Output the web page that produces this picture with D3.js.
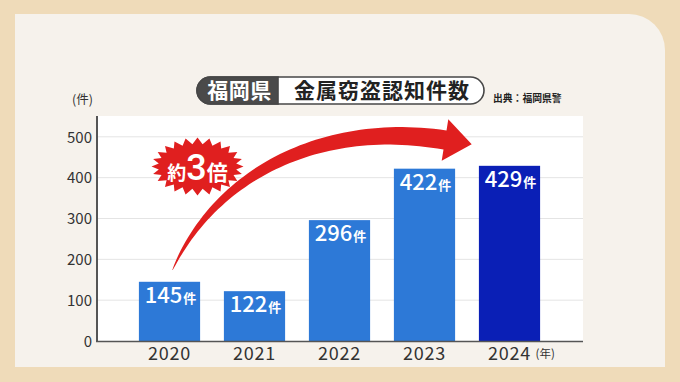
<!DOCTYPE html>
<html><head><meta charset="utf-8">
<script src="https://cdn.jsdelivr.net/npm/d3@7"></script>
<style>html,body{margin:0;padding:0;background:#efdbb9;}svg{display:block;}</style>
</head><body>
<svg id="c" width="680" height="382"></svg>
<script>
const years = ["2020","2021","2022","2023","2024"];
const counts = [145,122,296,422,429];
const yTicks = [0,100,200,300,400,500];
const unit = "件";
const titlePref = "福岡県";
const titleMain = "金属窃盗認知件数";
const source = "出典：福岡県警";
const badge = ["約","3","倍"];

const svg = d3.select("#c");
const F = "'Noto Sans CJK JP','Noto Sans',sans-serif";
const W=680,H=382;

// backgrounds
svg.append("rect").attr("width",W).attr("height",H).attr("fill","#efdbb9");
const px0=15,py0=14,px1=665,py1=367,r=36;
svg.append("path").attr("d",`M${px0},${py0}H${px1-r}A${r},${r} 0 0 1 ${px1},${py0+r}V${py1}H${px0}Z`).attr("fill","#f6f2ec");

const plot={l:98,r:583,t:116,b:341};
svg.append("rect").attr("x",plot.l).attr("y",plot.t).attr("width",plot.r-plot.l).attr("height",plot.b-plot.t).attr("fill","#ffffff");

const y=d3.scaleLinear().domain([0,551]).range([plot.b,plot.t]);
const x=d3.scaleBand().domain(years).range([127,552]).paddingInner(0.28).paddingOuter(0.14);

// grid
svg.append("g").selectAll("line").data(yTicks.filter(d=>d>0)).join("line")
 .attr("x1",plot.l).attr("x2",plot.r).attr("y1",d=>y(d)).attr("y2",d=>y(d))
 .attr("stroke","#e4e4e4").attr("stroke-width",1);

// bars
svg.append("g").selectAll("rect").data(counts).join("rect")
 .attr("x",(d,i)=>x(years[i])).attr("width",x.bandwidth())
 .attr("y",d=>y(d)).attr("height",d=>y(0)-y(d))
 .attr("fill",(d,i)=>i===counts.length-1?"#0a1fb6":"#2d79d7");

// value labels
const vl=svg.append("g").selectAll("text").data(counts).join("text")
 .attr("x",(d,i)=>x(years[i])+x.bandwidth()/2+1).attr("y",d=>y(d)+21)
 .attr("text-anchor","middle").attr("fill","#fff").attr("font-family",F);
vl.append("tspan").attr("font-size",22).attr("font-weight",500).text(d=>d);
vl.append("tspan").attr("font-size",13).attr("font-weight",700).attr("dx",1).text(unit);

// axes
const ya=d3.axisLeft(y).tickValues(yTicks).tickSize(0).tickPadding(5);
const gy=svg.append("g").attr("transform",`translate(${plot.l-1},0)`).call(ya);
gy.select(".domain").remove();
gy.selectAll("text").attr("font-family",F).attr("font-size",15).attr("fill","#333").attr("dy","0.35em");
svg.append("line").attr("x1",plot.l-1).attr("x2",plot.l-1).attr("y1",plot.t).attr("y2",plot.b+1).attr("stroke","#555").attr("stroke-width",2);
svg.append("line").attr("x1",plot.l-2).attr("x2",plot.r).attr("y1",plot.b+0.5).attr("y2",plot.b+0.5).attr("stroke","#555").attr("stroke-width",1.5);

const xa=d3.axisBottom(x).tickSize(0).tickPadding(4);
const gx=svg.append("g").attr("transform",`translate(0,${plot.b})`).call(xa);
gx.select(".domain").remove();
gx.selectAll("text").attr("font-family",F).attr("font-size",18).attr("letter-spacing",0.8).attr("fill","#333").attr("dy","0.82em");
svg.append("text").attr("x",x("2024")+x.bandwidth()/2+26).attr("y",358).attr("font-family",F).attr("font-size",11.5).attr("fill","#333").text("(年)");
svg.append("text").attr("x",72).attr("y",104).attr("font-family",F).attr("font-size",12.5).attr("fill","#333").text("(件)");

// title pill
const tg=svg.append("g");
const tx0=197,tx1=484,ty0=77,ty1=104,th=ty1-ty0,tr=th/2,tsplit=278;
tg.append("rect").attr("x",tx0).attr("y",ty0).attr("width",tx1-tx0).attr("height",th).attr("rx",tr).attr("fill","#fff").attr("stroke","#474747").attr("stroke-width",1.6);
tg.append("path").attr("d",`M${tsplit},${ty0}H${tx0+tr}A${tr},${tr} 0 0 0 ${tx0+tr},${ty1}H${tsplit}Z`).attr("fill","#4a4a4a").attr("stroke","#474747").attr("stroke-width",1.6);
tg.append("text").attr("x",(tx0+tsplit)/2+2).attr("y",ty0+th/2+7.5).attr("text-anchor","middle").attr("font-family",F).attr("font-weight",700).attr("font-size",21).attr("letter-spacing",0.5).attr("fill","#fff").text(titlePref);
tg.append("text").attr("x",(tsplit+tx1)/2+1).attr("y",ty0+th/2+7.5).attr("text-anchor","middle").attr("font-family",F).attr("font-weight",700).attr("font-size",21).attr("letter-spacing",1).attr("fill","#222").text(titleMain);
svg.append("text").attr("x",493).attr("y",102).attr("font-family",F).attr("font-weight",700).attr("font-size",9.8).attr("fill","#222").text(source);

// arrow
const P0=[x("2020")+x.bandwidth()/2+3,270],P1=[215,175],P2=[320,120],P3=[445,140];
function bez(t){const u=1-t;return [u*u*u*P0[0]+3*u*u*t*P1[0]+3*u*t*t*P2[0]+t*t*t*P3[0],u*u*u*P0[1]+3*u*u*t*P1[1]+3*u*t*t*P2[1]+t*t*t*P3[1]];}
function tan(t){const u=1-t;const dx=3*u*u*(P1[0]-P0[0])+6*u*t*(P2[0]-P1[0])+3*t*t*(P3[0]-P2[0]);const dy=3*u*u*(P1[1]-P0[1])+6*u*t*(P2[1]-P1[1])+3*t*t*(P3[1]-P2[1]);const l=Math.hypot(dx,dy);return [dx/l,dy/l];}
const N=60,left=[],right=[];
for(let i=0;i<=N;i++){const t=i/N;const p=bez(t),d=tan(t);const w=(0.5+19*Math.pow(t,0.75))/2;left.push([p[0]+d[1]*w,p[1]-d[0]*w]);right.push([p[0]-d[1]*w,p[1]+d[0]*w]);}
const dE=tan(1),hw=21,hl=27;
const hTop=[P3[0]+dE[1]*hw,P3[1]-dE[0]*hw],hBot=[P3[0]-dE[1]*hw,P3[1]+dE[0]*hw],tip=[P3[0]+dE[0]*hl,P3[1]+dE[1]*hl];
const pts=left.concat([hTop,tip,hBot]).concat(right.reverse());
svg.append("path").attr("d","M"+pts.map(p=>p[0].toFixed(1)+","+p[1].toFixed(1)).join("L")+"Z").attr("fill","#e01f1f");

// starburst
const cx=197.5,cy=166.5,rxo=46,ryo=29,rxi=39,ryi=22.5,n=24;
const sp=[];
for(let i=0;i<n*2;i++){const a=i*Math.PI/n;const o=i%2===0;sp.push([cx+(o?rxo:rxi)*Math.cos(a),cy+(o?ryo:ryi)*Math.sin(a)]);}
svg.append("path").attr("d","M"+sp.map(p=>p[0].toFixed(1)+","+p[1].toFixed(1)).join("L")+"Z").attr("fill","#e01f1f");
const bt=svg.append("text").attr("x",cx).attr("y",cy+13).attr("text-anchor","middle").attr("font-family",F).attr("font-weight",700).attr("fill","#fff");
bt.append("tspan").attr("font-size",19).text(badge[0]);
bt.append("tspan").attr("font-size",36).attr("font-family","Roboto,"+F).attr("font-weight",500).text(badge[1]);
bt.append("tspan").attr("font-size",21).text(badge[2]);
</script>
</body></html>
